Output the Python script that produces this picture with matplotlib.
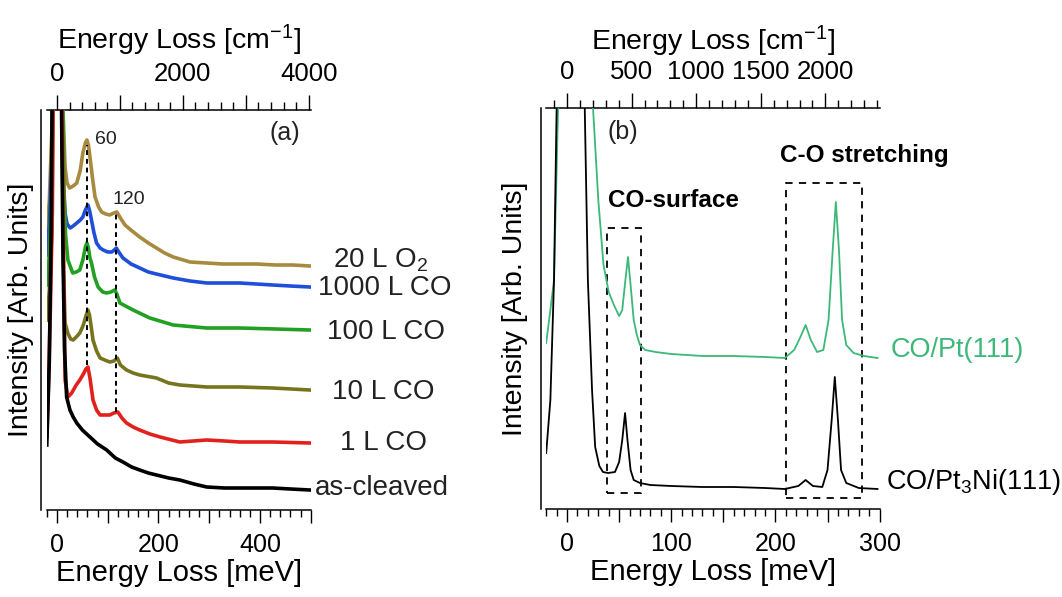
import numpy as np
import matplotlib.pyplot as plt
from matplotlib.ticker import MultipleLocator, FuncFormatter
from matplotlib.patches import Rectangle

plt.rcParams['font.family'] = ['Liberation Sans', 'DejaVu Sans']
plt.rcParams['mathtext.fontset'] = 'custom'
plt.rcParams['mathtext.rm'] = 'Liberation Sans'
plt.rcParams['mathtext.it'] = 'Liberation Sans:italic'
plt.rcParams['mathtext.bf'] = 'Liberation Sans:bold'

MEV_TO_CM = 8.0655  # 1 meV in cm^-1

# ---------------- panel (a) : HREELS vs. exposure ----------------
e_o2 = [-20, -15, -10, -5, 0, 6, 12, 16, 20, 25, 32, 39, 46, 51, 56, 59, 62, 65, 70, 75,
        82, 88, 96, 104, 112, 118, 125, 134, 148, 163, 180, 196, 212, 229, 262, 295,
        327, 360, 393, 430, 465, 498]
i_o2 = [27.5, 31, 38, 60, 90, 60, 40, 34.3, 32.7, 32.2, 32.4, 32.7, 34, 35.7, 36.7, 37, 36.5,
        35.3, 33.2, 31.3, 30.3, 29.8, 29.6, 29.5, 29.7, 29.8, 29.2, 28.5, 27.9, 27.3, 26.7,
        26.2, 25.7, 25.3, 24.8, 24.7, 24.6, 24.6, 24.6, 24.5, 24.5, 24.4]

e_1000 = [-20, -15, -10, -5, 0, 5, 10, 12, 16, 20, 26, 32, 39, 46, 51, 56, 61, 64, 68, 73,
          78, 85, 91, 100, 108, 113, 117, 123, 130, 146, 163, 180, 196, 229, 262, 295, 330,
          360, 393, 425, 460, 498]
i_1000 = [25.5, 28.5, 35, 60, 90, 60, 42, 33, 29.7, 28.6, 28.2, 28.4, 28.7, 29, 29.3, 30,
          30.5, 30, 29, 27.7, 26.7, 26.2, 26, 25.8, 25.8, 26, 26.2, 25.7, 25.2, 24.6, 24.2,
          23.8, 23.6, 23.2, 22.9, 22.7, 22.7, 22.7, 22.6, 22.5, 22.4, 22.3]

e_100 = [-20, -15, -10, -5, 0, 5, 10, 14, 17, 21.6, 31, 38, 45, 51, 56, 59, 62, 65, 68, 74,
         81, 90, 98, 106, 114, 118, 124, 135, 150, 183, 229, 295, 360, 430, 498]
i_100 = [22.5, 25.5, 32, 60, 90, 60, 45, 32, 27.5, 25, 23.7, 23.8, 24, 25, 26.3, 26.7, 26.2,
         25.2, 24.7, 23.3, 22.3, 21.8, 21.7, 21.8, 22, 21.6, 20.7, 20.4, 20, 19.2, 18.5,
         18.2, 18.2, 18.1, 18]

e_10 = [-20, -15, -10, -5, 0, 5, 10, 13, 16, 22, 27, 32, 38, 45, 52, 57, 61, 64, 67, 71,
        78, 85, 94, 104, 112, 119, 125, 137, 150, 163, 196, 220, 242, 295, 360, 425, 498]
i_10 = [19, 22, 28, 60, 90, 60, 40, 24, 18.7, 17.6, 17.1, 17, 17.3, 17.7, 18.5, 19.4, 20,
        19.5, 18.5, 17, 15.9, 15.2, 15, 14.8, 14.9, 15.2, 14.5, 14, 13.7, 13.5, 13.2, 12.7,
        12.5, 12.3, 12.3, 12.2, 12]

e_1 = [-20, -17, -13, -9, -5, 0, 5, 10, 13, 16, 21.6, 29, 38, 45, 52, 57, 61, 65, 71, 78,
       85, 95, 104, 112, 120, 128, 137, 150, 163, 183, 203, 242, 295, 330, 360, 425, 498]
i_1 = [7.3, 12, 20, 30, 60, 90, 60, 40, 25, 13, 11.3, 11.7, 12.5, 13, 13.6, 14.1, 14.3, 13.2,
       11, 10, 9.5, 9.5, 9.5, 9.7, 9.8, 9.2, 8.7, 8.3, 8, 7.6, 7.3, 6.8, 7, 6.9, 6.8, 6.8, 6.7]

e_clean = [-20, -15, -11, -7, -2, 4, 9, 12, 15, 19, 25.6, 32, 39, 50, 65, 80, 98, 115, 130,
           147, 163, 180, 196, 220, 242, 270, 295, 330, 360, 400, 425, 460, 498]
i_clean = [6.5, 15, 30, 60, 90, 60, 40, 25, 16, 11.3, 10, 9.3, 8.7, 8, 7.3, 6.6, 6, 5.2, 4.8,
           4.3, 4, 3.7, 3.5, 3.2, 3, 2.6, 2.3, 2.2, 2.2, 2.2, 2.2, 2.1, 2]

names_a = ['20 L O$_2$', '1000 L CO', '100 L CO', '10 L CO', '1 L CO', 'as-cleaved']
colors_a = ['#a88a3e', '#1f4fd8', '#22a022', '#77741e', '#e3211c', '#000000']
curves_a = [(e_o2, i_o2), (e_1000, i_1000), (e_100, i_100), (e_10, i_10), (e_1, i_1),
            (e_clean, i_clean)]
label_x_a = [544, 514, 532, 542, 558, 508]
label_y_a = [25, 22.2, 17.8, 11.8, 6.7, 2.2]

mode_pos = [59, 117]
mode_top = [36.5, 29.7]
mode_bottom = [14.5, 9.8]
mode_text = ['60', '120']
mode_text_x = [75, 110]
mode_text_y = [37, 31]

# ---------------- panel (b) : CO on Pt(111) and Pt3Ni(111) ----------------
e_pt = [-20, -16, -12.5, -8.6, -5, 0, 5, 12, 20, 25, 30, 35, 40, 45, 50, 53, 56, 58.5, 61,
        64, 67, 70, 75, 85, 100, 130, 160, 190, 209, 218, 224, 229, 234, 240, 246, 251, 255,
        258, 261, 264, 268, 275, 285, 298]
i_pt = [16.6, 19.9, 22.9, 40.1, 60, 90, 80, 60, 50, 40, 30.9, 24.4, 21.7, 20.4, 19.3, 19.9,
        22.9, 25.2, 22.4, 18.9, 17.4, 16.4, 15.9, 15.7, 15.5, 15.3, 15.3, 15.2, 15.1, 15.9,
        17.2, 18.4, 16.9, 15.7, 15.9, 18.9, 25.9, 30.7, 25.9, 18.9, 16.4, 15.6, 15.3, 15.1]

e_ptni = [-20, -16, -12.5, -10, -5, 2, 10, 17, 20, 24, 27, 31, 34.5, 39.5, 46, 50, 53, 55.7,
          58, 61, 64, 70, 80, 100, 130, 160, 190, 209, 222, 229, 236, 245, 250, 254, 257,
          260, 263, 268, 280, 298]
i_ptni = [5.6, 10.9, 22.9, 40, 80, 90, 70, 40.1, 22.9, 11.9, 6.2, 4.3, 3.7, 3.6, 3.7, 4.7,
          6.9, 9.6, 6.9, 3.9, 2.9, 2.6, 2.4, 2.3, 2.2, 2.2, 2.1, 2.0, 2.3, 2.9, 2.3, 2.2, 3.9,
          8.9, 13.2, 8.9, 3.9, 2.6, 2.1, 2.0]

names_b = ['CO/Pt(111)', 'CO/Pt$_3$Ni(111)']
colors_b = ['#3cb878', '#000000']
label_x_b = [311, 306]
label_y_b = [15.9, 2.7]

# boxes: (E_min, E_max, I_min, I_max)
box_surface = (38, 70.6, 1.6, 28.1)
box_stretch = (210, 283, 1.1, 32.6)

W, H = 1062, 597
fig = plt.figure(figsize=(W / 100, H / 100), dpi=100)
axa = fig.add_axes([46.8 / W, 87 / H, 264 / W, 400 / H])
axb = fig.add_axes([546.2 / W, 88 / H, 333.4 / W, 401 / H])


def every(step):
    return FuncFormatter(lambda v, p: f'{v:.0f}' if abs(v / step - round(v / step)) < 1e-6 else '')


def igor_style(ax, xlim, ylim, bmaj, bmin, blab, tmaj, tmin, tlab, ylab_x, top_y):
    ax.set_xlim(*xlim)
    ax.set_ylim(*ylim)
    for s in ['top', 'right']:
        ax.spines[s].set_visible(False)
    ax.spines['left'].set_position(('outward', 4))
    for s in ['left', 'bottom']:
        ax.spines[s].set_linewidth(1.1)
    ax.set_yticks([])
    ax.xaxis.set_major_locator(MultipleLocator(bmaj))
    ax.xaxis.set_minor_locator(MultipleLocator(bmin))
    ax.xaxis.set_major_formatter(every(blab))
    ax.tick_params(axis='x', which='major', direction='out', length=9.5, width=1.0,
                   labelsize=18, pad=7)
    ax.tick_params(axis='x', which='minor', direction='out', length=5, width=1.0)
    ax.set_xlabel('Energy Loss [meV]', fontsize=21)
    ax.xaxis.set_label_coords(0.5, -0.123)
    ax.set_ylabel('Intensity [Arb. Units]', fontsize=20.5)
    ax.yaxis.set_label_coords(ylab_x, 0.5)

    sec = ax.secondary_xaxis('top', functions=(lambda e: e * MEV_TO_CM,
                                               lambda w: w / MEV_TO_CM))
    sec.spines['top'].set_linewidth(1.1)
    sec.xaxis.set_major_locator(MultipleLocator(tmaj))
    sec.xaxis.set_minor_locator(MultipleLocator(tmin))
    sec.xaxis.set_major_formatter(every(tlab))
    sec.tick_params(axis='x', which='major', direction='out', length=10.5, width=1.0,
                    labelsize=18.5, pad=7)
    sec.tick_params(axis='x', which='minor', direction='out', length=5.5, width=1.0)
    sec.set_xlabel('Energy Loss [cm$^{-1}$]', fontsize=20.5)
    sec.xaxis.set_label_coords(0.5, top_y, transform=ax.transAxes)
    return sec


igor_style(axa, (-20, 500), (0, 40), 100, 20, 200, 1000, 200, 2000, -0.05, 1.152)
igor_style(axb, (-20, 300), (0, 40.1), 50, 10, 100, 500, 100, 500, -0.054, 1.143)

# panel (a)
for (e, i), c, name, lx, ly in zip(curves_a, colors_a, names_a, label_x_a, label_y_a):
    axa.plot(e, i, color=c, lw=2.6, solid_joinstyle='round')
    axa.text(lx, ly, name, color='#222222', fontsize=20, ha='left', va='center',
             clip_on=False)

for xp, yt, yb in zip(mode_pos, mode_top, mode_bottom):
    axa.plot([xp, xp], [yb, yt], color='k', lw=1.4, ls=(0, (2.5, 2)))
for t, tx, ty in zip(mode_text, mode_text_x, mode_text_y):
    axa.text(tx, ty, t, color='#222222', fontsize=14, ha='left', va='center')
axa.text(479, 37.7, '(a)', fontsize=18, ha='right', va='center', color='#222222')

# panel (b)
for (e, i), c, name, lx, ly in zip([(e_pt, i_pt), (e_ptni, i_ptni)], colors_b, names_b,
                                   label_x_b, label_y_b):
    axb.plot(e, i, color=c, lw=1.3)
    axb.text(lx, ly, name, color=c, fontsize=19.5, ha='left', va='center', clip_on=False)

for (x0, x1, y0, y1) in [box_surface, box_stretch]:
    axb.add_patch(Rectangle((x0, y0), x1 - x0, y1 - y0, fill=False, ec='k', lw=1.3,
                            ls=(0, (4, 3.5))))
axb.text(39.3, 30.9, 'CO-surface', fontsize=17.5, fontweight='bold', ha='left', va='center')
axb.text(204.4, 35.4, 'C-O stretching', fontsize=17.5, fontweight='bold', ha='left',
         va='center')
axb.text(39.3, 37.7, '(b)', fontsize=18, ha='left', va='center', color='#222222')

fig.savefig('out.png', dpi=100, facecolor='white')
